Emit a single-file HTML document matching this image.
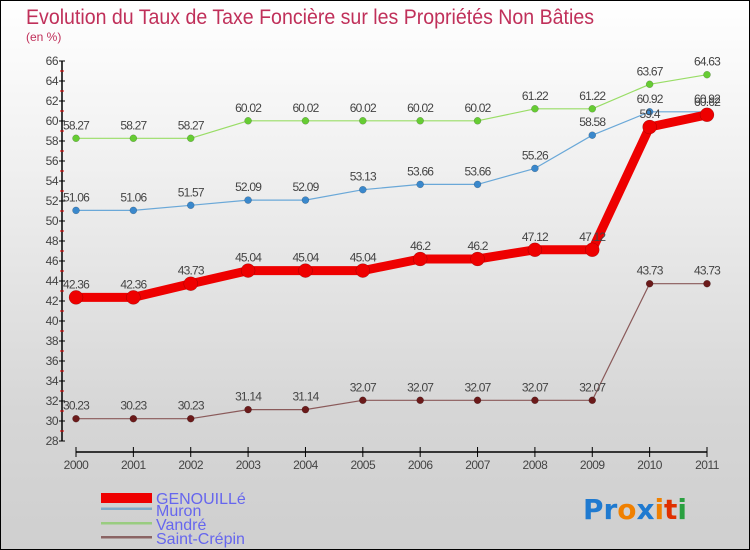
<!DOCTYPE html>
<html><head><meta charset="utf-8"><style>
body{margin:0;}
#wrap{position:relative;width:748px;height:548px;border:1px solid #000;background:linear-gradient(#ffffff 0%,#f0f0f0 30%,#d6d6d6 75%,#cfcfcf 100%);overflow:hidden;font-family:"Liberation Sans",sans-serif;}
svg{position:absolute;left:0;top:0;}
</style></head><body>
<div id="wrap">
<svg id="chart" width="748" height="548">
<text x="25" y="23" font-size="21" fill="#c0305a" textLength="568" lengthAdjust="spacingAndGlyphs">Evolution du Taux de Taxe Foncière sur les Propriétés Non Bâties</text>
<text x="25" y="40" font-size="12" fill="#c0305a">(en %)</text>
<g id="axes"></g><g id="series"></g>
<g>
<rect x="100" y="492" width="51" height="10" fill="#ee0000"/>
<text x="155" y="503" font-size="16" fill="#6666ee">GENOUILLé</text>
<rect x="100" y="506.5" width="51" height="2.5" fill="#7fa9c6"/>
<text x="155" y="515" font-size="16" fill="#6666ee">Muron</text>
<rect x="100" y="521" width="51" height="2.5" fill="#99cc80"/>
<text x="155" y="529" font-size="16" fill="#6666ee">Vandré</text>
<rect x="100" y="535" width="51" height="2.5" fill="#8a6464"/>
<text x="155" y="543" font-size="16" fill="#6666ee">Saint-Crépin</text>
</g>
<text x="582" y="518" font-size="28" font-weight="bold" font-family="'DejaVu Sans',sans-serif" textLength="104" lengthAdjust="spacingAndGlyphs"><tspan fill="#1f7ad0">Pr</tspan><tspan fill="#f08000">o</tspan><tspan fill="#1f7ad0">x</tspan><tspan fill="#f08000">i</tspan><tspan fill="#e03000">t</tspan><tspan fill="#2aa040">i</tspan></text>
</svg>
</div>
<script>
const years=[2000,2001,2002,2003,2004,2005,2006,2007,2008,2009,2010,2011];
const genouille=[42.36,42.36,43.73,45.04,45.04,45.04,46.2,46.2,47.12,47.12,59.4,60.62];
const muron=[51.06,51.06,51.57,52.09,52.09,53.13,53.66,53.66,55.26,58.58,60.92,60.92];
const vandre=[58.27,58.27,58.27,60.02,60.02,60.02,60.02,60.02,61.22,61.22,63.67,64.63];
const stcrepin=[30.23,30.23,30.23,31.14,31.14,32.07,32.07,32.07,32.07,32.07,43.73,43.73];
const yTicks=[28,30,32,34,36,38,40,42,44,46,48,50,52,54,56,58,60,62,64,66];
const NS='http://www.w3.org/2000/svg';
function xs(i){return 75+i*(706-75)/(years.length-1);}
function ys(v){return 440-(v-28)*10;}
function mk(t,a,p){const e=document.createElementNS(NS,t);for(const k in a)e.setAttribute(k,a[k]);p.appendChild(e);return e;}
const ax=document.getElementById('axes'),se=document.getElementById('series');
let e=mk('line',{x1:61,y1:ys(66),x2:61,y2:ys(28),stroke:'#000','stroke-width':1.5},ax);


yTicks.forEach(v=>{
 mk('line',{x1:58,y1:ys(v),x2:64,y2:ys(v),stroke:'#000'},ax);
 mk('line',{x1:59,y1:ys(v+1),x2:63,y2:ys(v+1),stroke:v<66?'#e00000':'none'},ax);
 const t=mk('text',{x:57,y:ys(v)+4,'font-size':12,fill:'#444','text-anchor':'end','letter-spacing':'-0.5'},ax);t.textContent=v;
 
 
});
e=mk('line',{x1:xs(0),y1:451,x2:xs(11),y2:451,stroke:'#000','stroke-width':1.5},ax);


years.forEach((y,i)=>{
 mk('line',{x1:xs(i),y1:446,x2:xs(i),y2:456,stroke:'#000'},ax);
 const t=mk('text',{x:xs(i),y:468,'font-size':12,fill:'#444','text-anchor':'middle','letter-spacing':'-0.5'},ax);t.textContent=y;
 
 
});
function series(vals,color,w,r,name,dot){
 const g=mk('g',{},se);
 
 
 mk('polyline',{points:vals.map((v,i)=>xs(i)+','+ys(v)).join(' '),fill:'none',stroke:color,'stroke-width':w,'stroke-linejoin':'round'},g);
 vals.forEach((v,i)=>{
  const c=mk('circle',{cx:xs(i),cy:ys(v),r:r,fill:dot,stroke:'rgba(0,0,0,0.3)','stroke-width':0.5},g);
  
  
  const t=mk('text',{x:xs(i),y:ys(v)-9,'font-size':12,fill:'#444','text-anchor':'middle','letter-spacing':'-0.8'},g);
  t.textContent=String(v);
  
  
 });
}
series(stcrepin,'#8a5a5a',1.2,3.5,'saint-crepin','#6b1a1a');
series(vandre,'#99dd66',1.2,3.5,'vandre','#66cc33');
series(muron,'#6aa8d8',1.2,3.5,'muron','#3a88cc');
series(genouille,'#ee0000',9,7,'genouille','#ee0000');
</script>
</body></html>
